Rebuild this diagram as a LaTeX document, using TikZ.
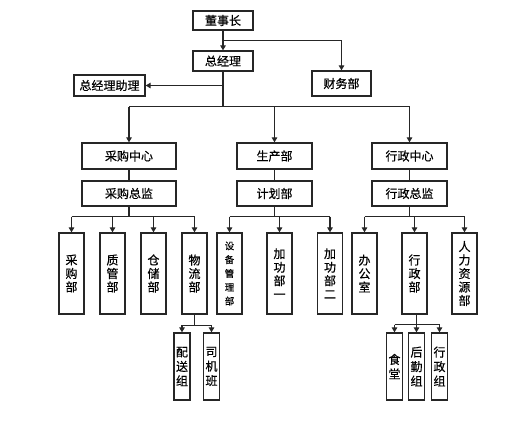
\documentclass[tikz,border=0pt]{standalone}
\usepackage{fontspec}
\newfontfamily\cjk[FakeBold=0.6]{Noto Sans CJK SC}
\usetikzlibrary{arrows.meta,calc}
\begin{document}
\begin{tikzpicture}[x=1pt,y=-1pt,
  box/.style={draw=black!85,line width=1.3pt,inner sep=0pt,font=\cjk\fontsize{12}{14}\selectfont},
  vbox/.style={box,minimum width=25pt,minimum height=81pt,align=center,font=\cjk\fontsize{12}{13.5}\selectfont},
  sbox/.style={box,minimum width=16pt,minimum height=67pt,align=center,font=\cjk\fontsize{12}{14.5}\selectfont},
  ln/.style={draw=black!85,line width=1.2pt},
  arr/.style={ln,-{Triangle[length=5pt,width=5.5pt]}}]
\useasboundingbox (0,0) rectangle (530,421);
% top levels
\node[box,minimum width=60pt,minimum height=19pt] (dsz) at (223,20.5) {董事长};
\node[box,minimum width=60pt,minimum height=20pt] (zjl) at (223,61) {总经理};
\node[box,minimum width=59pt,minimum height=25pt] (cwb) at (341.5,83.5) {财务部};
\node[box,minimum width=71pt,minimum height=21pt] (zl) at (109.5,85.5) {总经理助理};
% centers
\node[box,minimum width=94pt,minimum height=26pt] (cg) at (129,156) {采购中心};
\node[box,minimum width=94pt,minimum height=25pt] (cgzj) at (129,193.5) {采购总监};
\node[box,minimum width=75pt,minimum height=26pt] (sc) at (274.5,156) {生产部};
\node[box,minimum width=75pt,minimum height=25pt] (jh) at (274.5,193.5) {计划部};
\node[box,minimum width=75pt,minimum height=26pt] (xz) at (409.5,156) {行政中心};
\node[box,minimum width=75pt,minimum height=25pt] (xzzj) at (409.5,193.5) {行政总监};
% departments
\node[vbox] (cgb) at (71.5,273.5) {采\\购\\部};
\node[vbox] (zgb) at (112.5,273.5) {质\\管\\部};
\node[vbox] (ccb) at (153.5,273.5) {仓\\储\\部};
\node[vbox] (wlb) at (194.5,273.5) {物\\流\\部};
\node[vbox,font=\cjk\fontsize{9.5}{13.8}\selectfont] (sbb) at (229.5,273.5) {设\\备\\管\\理\\部};
\node[vbox] (jg1) at (279.5,273.5) {加\\功\\部\\一};
\node[vbox] (jg2) at (330,273.5) {加\\功\\部\\二};
\node[vbox] (bgs) at (364.5,273.5) {办\\公\\室};
\node[vbox] (xzb) at (414.5,273.5) {行\\政\\部};
\node[vbox] (rl) at (464.5,273.5) {人\\力\\资\\源\\部};
% groups
\node[sbox] (ps) at (182,366.5) {配\\送\\组};
\node[sbox] (sj) at (211.5,366.5) {司\\机\\班};
\node[sbox] (st) at (394.5,366.5) {食\\堂};
\node[sbox] (hq) at (416.5,366.5) {后\\勤\\组};
\node[sbox] (xzz) at (439.5,366.5) {行\\政\\组};
% connectors top
\draw[arr] (dsz.south) -- (zjl.north);
\draw[arr] ($(dsz.south)!0.5!(zjl.north)$) -| (cwb.north);
\draw[arr] (zjl.south |- zl.east) -- (zl.east);
\draw[ln] (zjl.south) -- ++(0,35) coordinate (m);
\draw[ln] (cg.north |- m) -- (xz.north |- m);
\draw[arr] (cg.north |- m) -- (cg.north);
\draw[arr] (sc.north |- m) -- (sc.north);
\draw[arr] (xz.north |- m) -- (xz.north);
\draw[ln] (cg.south) -- (cgzj.north);
\draw[ln] (sc.south) -- (jh.north);
\draw[ln] (xz.south) -- (xzzj.north);
% second level branches
\draw[ln] (cgzj.south) -- ++(0,10) coordinate (b1);
\draw[ln] (cgb.north |- b1) -- (wlb.north |- b1);
\foreach \n in {cgb,zgb,ccb,wlb} \draw[arr] (\n.north |- b1) -- (\n.north);
\draw[ln] (jh.south) -- ++(0,10) coordinate (b2);
\draw[ln] (sbb.north |- b2) -- (jg2.north |- b2);
\foreach \n in {sbb,jg1,jg2} \draw[arr] (\n.north |- b2) -- (\n.north);
\draw[ln] (xzzj.south) -- ++(0,10) coordinate (b3);
\draw[ln] (bgs.north |- b3) -- (rl.north |- b3);
\foreach \n in {bgs,xzb,rl} \draw[arr] (\n.north |- b3) -- (\n.north);
% third level
\draw[ln] (wlb.south) -- ++(0,10.5) coordinate (b4);
\draw[ln] (ps.north |- b4) -- (sj.north |- b4);
\foreach \n in {ps,sj} \draw[arr] (\n.north |- b4) -- (\n.north);
\draw[ln] (hq.north |- xzb.south) -- ++(0,10) coordinate (b5);
\draw[ln] (st.north |- b5) -- (xzz.north |- b5);
\foreach \n in {st,hq,xzz} \draw[arr] (\n.north |- b5) -- (\n.north);
\end{tikzpicture}
\end{document}
